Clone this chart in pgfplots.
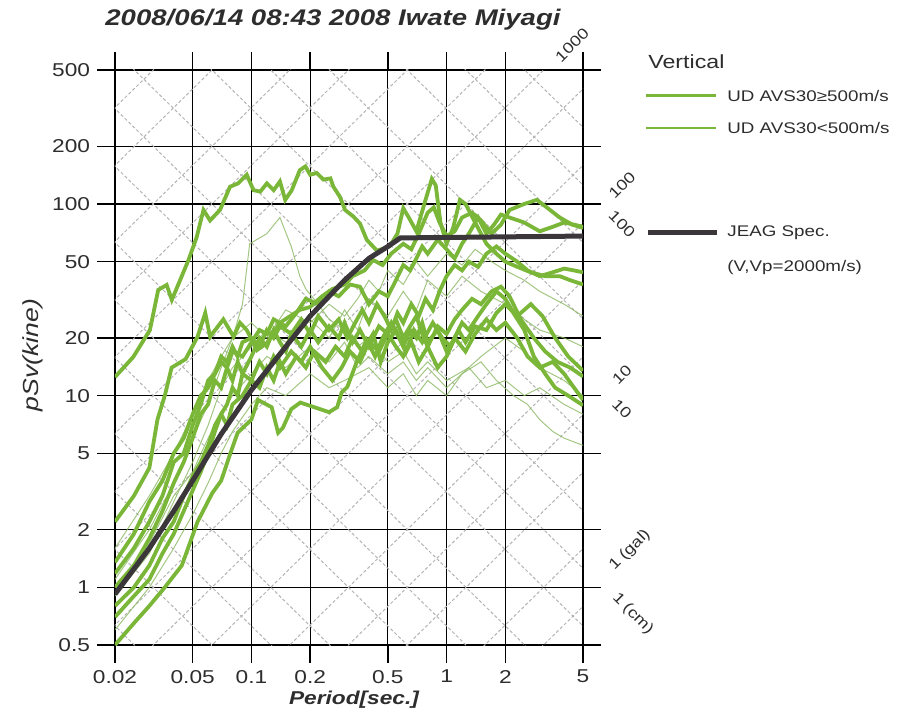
\documentclass[border=0pt]{standalone}
\usepackage{fontspec}
\setmainfont{Liberation Sans}[FakeStretch=1.22]
\usepackage{pgfplots}
\pgfplotsset{compat=1.18}
\definecolor{gthick}{RGB}{122,182,56}
\definecolor{gthin}{RGB}{140,185,100}
\definecolor{jeag}{RGB}{58,54,58}
\definecolor{diagc}{RGB}{180,180,180}
\definecolor{txt}{RGB}{45,45,45}
\begin{document}
\begin{tikzpicture}[x=0.5pt,y=0.5pt]
\useasboundingbox (-115,-73) rectangle (793,645);
\begin{axis}[
 at={(0,0)}, anchor=south west,
 scale only axis, width=234pt, height=287.5pt,
 xmode=log, ymode=log,
 xmin=0.02, xmax=5, ymin=0.5, ymax=500,
 xtick={0.02,0.05,0.1,0.2,0.5,1,2,5},
 xticklabels={0.02,0.05,0.1,0.2,0.5,1,2,5},
 ytick={0.5,1,2,5,10,20,50,100,200,500},
 yticklabels={0.5,1,2,5,10,20,50,100,200,500},
 xminorticks=false, yminorticks=false,
 tick align=outside, xtick pos=both, ytick pos=both,
 xticklabel pos=bottom, yticklabel pos=left,
 major tick length=9pt,
 major tick style={black, line width=0.7pt},
 grid=major, major grid style={black, line width=0.6pt},
 axis line style={black, line width=1.4pt},
 tick label style={font=\fontsize{9.3}{10}\selectfont, text=txt},
 no markers,
 clip=true,
]
% tripartite diagonal grid (acceleration: slope +1, displacement: slope -1)
\foreach \e in {-4,...,2}{%
  \foreach \m in {1,2,5}{%
    \pgfmathtruncatemacro\ee{\e+4}%
    \edef\temp{\noexpand\draw[diagc, line width=0.5pt, dash pattern=on 1.6pt off 1.1pt] (axis cs:6.2832e-3,\m e\e) -- (axis cs:62.832,\m e\ee);}%
    \temp
  }%
}
\foreach \e in {0,...,5}{%
  \foreach \m in {1,2,5}{%
    \pgfmathtruncatemacro\ee{\e-4}%
    \edef\temp{\noexpand\draw[diagc, line width=0.5pt, dash pattern=on 1.6pt off 1.1pt] (axis cs:6.2832e-3,\m e\e) -- (axis cs:62.832,\m e\ee);}%
    \temp
  }%
}
% thin curves: UD AVS30<500m/s
\addplot[gthin, line width=0.5pt, opacity=0.8] coordinates {(0.02,1.1)(0.03,2)(0.04,3.5)(0.05,6)(0.06,9)(0.07,14)(0.08,20)(0.09,30)(0.098,62)(0.12,70)(0.14,85)(0.16,60)(0.177,42)(0.19,36)(0.22,30)(0.25,25)(0.3,22)(0.35,18)(0.4,20)(0.5,15)(0.6,17)(0.7,13)(0.8,15)(1,12)(1.3,14)(1.6,11)(2,12)(2.5,10)(3,11)(4,9)(5,8)};
\addplot[gthin, line width=0.5pt, opacity=0.8] coordinates {(0.02,0.9)(0.03,1.5)(0.04,2.8)(0.05,4.5)(0.06,7)(0.07,11)(0.08,14)(0.1,18)(0.12,22)(0.15,19)(0.2,25)(0.25,20)(0.3,28)(0.35,22)(0.4,32)(0.5,26)(0.6,35)(0.7,28)(0.8,40)(1,33)(1.2,42)(1.5,35)(2,30)(2.5,25)(3,22)(4,20)(5,18)};
\addplot[gthin, line width=0.5pt, opacity=0.8] coordinates {(0.02,0.6)(0.03,1)(0.04,1.6)(0.05,2.4)(0.06,3.5)(0.07,5)(0.08,6.5)(0.1,9)(0.12,11)(0.15,10)(0.2,13)(0.25,11)(0.3,12)(0.4,14)(0.5,11)(0.6,13)(0.7,10)(0.8,12)(1,10)(1.2,13)(1.5,15)(1.8,12)(2.2,10)(2.6,9)(3,7.5)(3.5,6.5)(4,6)(5,5.5)};
\addplot[gthin, line width=0.5pt, opacity=0.8] coordinates {(0.02,1.6)(0.03,3)(0.04,5)(0.05,8)(0.06,12)(0.07,16)(0.08,20)(0.1,24)(0.12,20)(0.15,28)(0.2,24)(0.25,30)(0.3,26)(0.35,32)(0.4,40)(0.45,35)(0.5,45)(0.6,38)(0.7,50)(0.8,42)(1,55)(1.2,48)(1.4,58)(1.7,50)(2,45)(2.5,40)(3,35)(4,30)(5,26)};
\addplot[gthin, line width=0.5pt, opacity=0.8] coordinates {(0.02,1.0)(0.03,1.7)(0.04,3)(0.05,4)(0.06,6)(0.07,8)(0.08,10)(0.1,13)(0.12,16)(0.15,14)(0.2,18)(0.25,15)(0.3,19)(0.35,14)(0.4,16)(0.5,13)(0.6,15)(0.7,12)(0.8,14)(1,11)(1.2,13)(1.5,16)(2,20)(2.5,17)(3,14)(4,12)(5,10)};
% thick curves: UD AVS30>=500m/s
\addplot[gthick, line width=1.9pt] coordinates {(0.02,12.5)(0.0248,15.9)(0.0302,22)(0.0333,35.6)(0.0368,37.8)(0.0391,31.6)(0.0431,40)(0.0476,51)(0.0524,67)(0.0568,93)(0.0614,82)(0.069,93)(0.0777,123)(0.0855,128)(0.0947,142)(0.1025,118)(0.111,116)(0.12,128)(0.13,118)(0.14,131)(0.149,105)(0.161,118)(0.177,150)(0.189,157)(0.2,142)(0.216,145)(0.234,134)(0.254,136)(0.263,123)(0.284,109)(0.302,93)(0.333,86)(0.36,79)(0.39,65)(0.44,57)(0.51,60)(0.56,70)(0.6,95)(0.64,85)(0.7,72)(0.78,105)(0.84,135)(0.88,125)(0.93,80)(1.0,62)(1.08,75)(1.17,105)(1.25,100)(1.4,80)(1.6,62)(1.8,55)(2.0,50)(2.3,47)(2.7,44)(3.2,42)(3.8,42)(4.3,40)(5,38)};
\addplot[gthick, line width=1.9pt] coordinates {(0.02,2.2)(0.025,3)(0.03,4.2)(0.033,7.5)(0.036,10)(0.039,14)(0.046,15.5)(0.053,20.3)(0.058,27)(0.0614,20.3)(0.0718,25)(0.081,20.3)(0.0874,24)(0.0946,22)(0.107,17.3)(0.12,18.8)(0.14,24)(0.158,26)(0.177,28)(0.2,29)(0.23,33)(0.26,36)(0.3,38)(0.33,42)(0.38,45)(0.42,51)(0.47,48)(0.52,55)(0.6,62)(0.66,58)(0.72,70)(0.8,90)(0.86,96)(0.92,80)(1.0,68)(1.1,72)(1.2,85)(1.35,90)(1.5,82)(1.7,70)(1.9,78)(2.1,93)(2.5,100)(2.9,105)(3.3,95)(3.8,85)(4.4,78)(5,75)};
\addplot[gthick, line width=1.9pt] coordinates {(0.02,1.18)(0.025,1.6)(0.03,2.2)(0.035,3)(0.04,4.5)(0.045,5)(0.05,7)(0.055,9)(0.06,12)(0.065,13)(0.07,15)(0.075,14)(0.08,17)(0.09,16)(0.1,19)(0.11,22)(0.12,21)(0.13,25)(0.15,23)(0.17,27)(0.19,32)(0.22,30)(0.25,35)(0.28,33)(0.32,38)(0.36,37)(0.4,30)(0.45,35)(0.5,33)(0.55,40)(0.6,48)(0.65,45)(0.7,52)(0.75,60)(0.8,55)(0.9,65)(1.0,58)(1.1,52)(1.2,62)(1.3,70)(1.45,85)(1.6,70)(1.75,78)(1.9,88)(2.1,85)(2.5,80)(3,72)(3.5,76)(4,80)(4.5,78)(5,76)};
\addplot[gthick, line width=1.9pt] coordinates {(0.02,1.0)(0.025,1.3)(0.03,1.8)(0.035,2.5)(0.04,3.5)(0.045,4.5)(0.05,6)(0.055,8)(0.06,9)(0.065,12)(0.07,11)(0.075,14)(0.08,12)(0.085,15)(0.09,13)(0.1,16)(0.11,20)(0.12,18)(0.13,22)(0.14,19)(0.15,17)(0.16,21)(0.18,18)(0.2,22)(0.22,19)(0.25,23)(0.28,20)(0.3,24)(0.33,19)(0.36,22)(0.4,18)(0.45,23)(0.5,21)(0.55,25)(0.6,20)(0.65,23)(0.7,26)(0.75,21)(0.8,18)(0.9,23)(1.0,21)(1.1,25)(1.2,28)(1.35,32)(1.5,30)(1.7,35)(1.9,37)(2.1,33)(2.4,25)(2.8,20)(3.2,17)(3.7,15)(4.3,14)(5,12.6)};
\addplot[gthick, line width=1.9pt] coordinates {(0.02,0.8)(0.025,1.0)(0.03,1.3)(0.035,1.8)(0.04,2.2)(0.045,3)(0.05,3.8)(0.055,4.5)(0.06,5.5)(0.065,7)(0.07,8)(0.075,7)(0.08,9)(0.09,10)(0.1,12)(0.11,11)(0.12,14)(0.13,12)(0.14,15)(0.15,13)(0.17,16)(0.19,14)(0.21,17)(0.24,15)(0.27,18)(0.3,16)(0.33,20)(0.37,17)(0.42,21)(0.46,15)(0.5,19)(0.55,22)(0.6,18)(0.65,22)(0.7,20)(0.75,24)(0.8,19)(0.9,22)(1.0,17)(1.1,20)(1.2,24)(1.3,22)(1.45,26)(1.6,30)(1.8,35)(2.0,32)(2.2,27)(2.5,22)(2.8,16)(3.2,13)(3.6,11)(4.2,10)(5,8.9)};
\addplot[gthick, line width=1.9pt] coordinates {(0.02,0.5)(0.025,0.65)(0.03,0.8)(0.036,1.0)(0.044,1.3)(0.053,2.2)(0.063,3.1)(0.07,3.6)(0.078,5)(0.085,6.4)(0.1,7.5)(0.108,9.5)(0.127,8.7)(0.137,6.4)(0.145,6.8)(0.16,8.5)(0.178,9.2)(0.21,8.7)(0.25,8.2)(0.275,8.7)(0.29,10.4)(0.31,11.1)(0.35,15.4)(0.39,19.5)(0.43,16)(0.47,20)(0.52,24)(0.57,20)(0.62,17)(0.68,22)(0.75,19)(0.85,24)(0.95,20)(1.05,18)(1.15,22)(1.25,19)(1.4,23)(1.6,22)(1.8,27)(2.0,30)(2.3,26)(2.7,30)(3.1,26)(3.6,20)(4.2,16)(5,13.5)};
\addplot[gthick, line width=1.9pt] coordinates {(0.02,1.35)(0.025,1.9)(0.03,2.8)(0.035,3.6)(0.04,5)(0.045,6)(0.05,8)(0.055,10)(0.06,11)(0.065,13)(0.07,16)(0.075,15)(0.08,18)(0.085,16)(0.09,19)(0.1,20)(0.11,18)(0.12,22)(0.13,20)(0.14,23)(0.16,21)(0.18,25)(0.2,21)(0.22,26)(0.25,22)(0.28,25)(0.31,20)(0.34,24)(0.37,28)(0.4,24)(0.44,30)(0.48,26)(0.52,22)(0.56,27)(0.6,24)(0.66,30)(0.72,26)(0.78,32)(0.85,28)(0.92,35)(1.0,42)(1.1,48)(1.2,45)(1.3,50)(1.45,47)(1.6,55)(1.8,60)(2.0,55)(2.3,50)(2.6,45)(3.0,42)(3.5,44)(4.0,46)(4.5,45)(5,44)};
\addplot[gthick, line width=1.9pt] coordinates {(0.02,0.7)(0.025,0.9)(0.03,1.1)(0.035,1.5)(0.04,1.9)(0.045,2.5)(0.05,3.2)(0.055,4)(0.06,5)(0.065,6.5)(0.07,8)(0.075,9)(0.08,11)(0.085,10)(0.09,13)(0.1,12)(0.11,15)(0.12,13)(0.13,16)(0.14,14)(0.16,17)(0.18,15)(0.2,18)(0.23,14)(0.26,12)(0.29,14)(0.32,17)(0.36,15)(0.4,19)(0.45,17)(0.5,21)(0.55,18)(0.6,16)(0.66,19)(0.72,15)(0.8,18)(0.9,14)(1.0,16)(1.1,20)(1.25,17)(1.4,21)(1.6,25)(1.8,22)(2.0,24)(2.3,20)(2.6,16)(3,14)(3.5,15)(4,13)(4.5,11)(5,9.5)};
% JEAG spectrum
\addplot[jeag, line width=2.5pt] coordinates {(0.02,0.92)(0.03,1.6)(0.04,2.5)(0.05,3.6)(0.07,6.3)(0.1,10.7)(0.15,18)(0.2,26)(0.3,40)(0.4,52)(0.5,60)(0.58,66.5)(5,68)};
\end{axis}
% title and axis labels
\node[txt, font=\fontsize{11.3}{13}\selectfont\bfseries\itshape] at (218,625) {2008/06/14 08:43 2008 Iwate Miyagi};
\node[txt, font=\fontsize{9.3}{11}\selectfont\bfseries\itshape] at (239,-55) {Period[sec.]};
\node[txt, font=\fontsize{10.9}{12}\selectfont\itshape, rotate=90] at (-82,290) {pSv(kine)};
% tripartite labels
\begin{scope}[font=\fontsize{7.5}{8}\selectfont, text=txt, inner sep=0pt]
\node[rotate=45] at (457,600) {1000};
\node[rotate=45] at (507,460) {100};
\node[rotate=-45] at (507,421) {100};
\node[rotate=45] at (507,270) {10};
\node[rotate=-45] at (507,236) {10};
\node[rotate=45] at (515,95) {1\kern0.28em(gal)};
\node[rotate=-45] at (518,31) {1\kern0.28em(cm)};
\end{scope}
% legend
\node[txt, anchor=west, font=\fontsize{9.5}{11}\selectfont, inner sep=0pt] at (533,583) {Vertical};
\draw[gthick, line width=1.5pt] (531,549) -- (601,549);
\node[txt, anchor=west, font=\fontsize{7.7}{9}\selectfont, inner sep=0pt] at (612,549) {UD AVS30≥500m/s};
\draw[gthick, line width=0.6pt] (531,517) -- (601,517);
\node[txt, anchor=west, font=\fontsize{7.7}{9}\selectfont, inner sep=0pt] at (612,517) {UD AVS30<500m/s};
\draw[jeag, line width=2.5pt] (533,412) -- (602,412);
\node[txt, anchor=west, font=\fontsize{7.7}{9}\selectfont, inner sep=0pt] at (612,412) {JEAG Spec.};
\node[txt, anchor=west, font=\fontsize{7.7}{9}\selectfont, inner sep=0pt] at (612,377) {(V,Vp=2000m/s)};
\end{tikzpicture}
\end{document}
